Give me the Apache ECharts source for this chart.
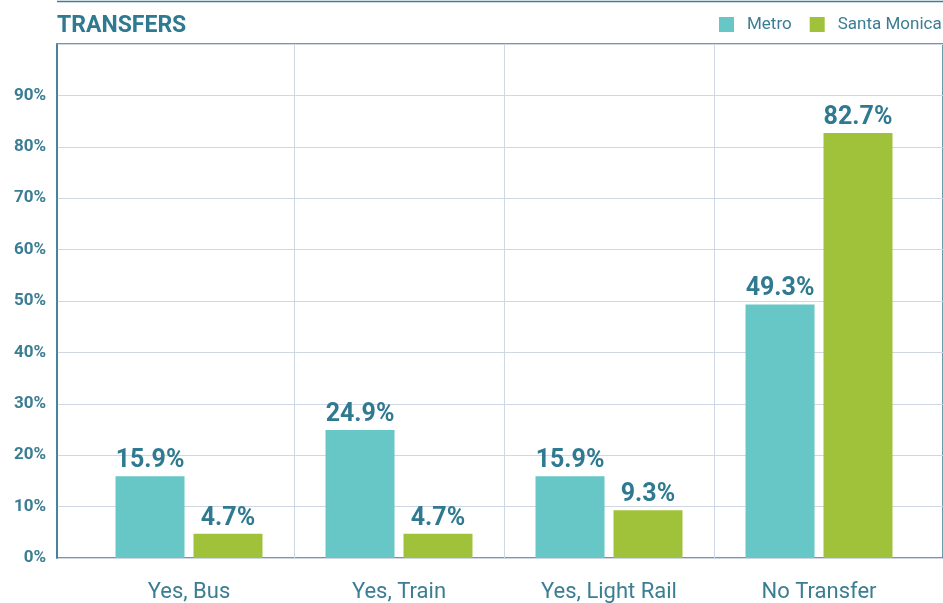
<!DOCTYPE html>
<html>
<head>
<meta charset="utf-8">
<script src="https://cdn.jsdelivr.net/npm/echarts@6/dist/echarts.min.js"></script>
<style>
  html, body { margin: 0; padding: 0; background: #ffffff; }
  #chart { width: 943px; height: 603px; }
</style>
</head>
<body>
<div id="chart"></div>
<script>
// Transfer share by rider group
const categories = ['Yes, Bus', 'Yes, Train', 'Yes, Light Rail', 'No Transfer'];
const metroValues = [15.9, 24.9, 15.9, 49.3];
const santaMonicaValues = [4.7, 4.7, 9.3, 82.7];
const seriesNames = ['Metro', 'Santa Monica'];
const yTicks = [0, 10, 20, 30, 40, 50, 60, 70, 80, 90, 100];

const ink = '#2f7a90';
const axisInk = '#3b7d92';
const gridInk = '#cfd8e2';
const font = 'Roboto, "Noto Sans", sans-serif';

const chart = echarts.init(document.getElementById('chart'), null, { renderer: 'canvas' });

const yMin = yTicks[0];
const yMax = yTicks[yTicks.length - 1];
const yStep = yTicks[1] - yTicks[0];

const barLabel = {
  show: true,
  position: 'top',
  distance: 3,
  formatter: p => p.value.toFixed(1) + '%',
  color: ink,
  fontFamily: font,
  fontWeight: 'bold',
  fontSize: 25
};

chart.setOption({
  animation: false,
  title: {
    text: 'TRANSFERS',
    left: 52,
    top: 10,
    textStyle: { color: ink, fontFamily: font, fontWeight: 'bold', fontSize: 23 }
  },
  legend: {
    data: seriesNames,
    left: 714,
    top: 11,
    width: 400,
    icon: 'rect',
    itemWidth: 15,
    itemHeight: 15,
    itemGap: 18,
    textStyle: { color: axisInk, fontFamily: font, fontSize: 17, padding: [0, 0, 0, 8] }
  },
  graphic: [{
    type: 'line',
    shape: { x1: 57, y1: 1.5, x2: 943, y2: 1.5 },
    style: { stroke: axisInk, lineWidth: 1.5 }
  }],
  grid: [
    // bar area
    { left: 84, right: 19, top: 44, bottom: 45 },
    // frame, horizontal rules and percentage scale
    { left: 57, right: -3, top: 44, bottom: 45, show: true, borderColor: axisInk, borderWidth: 1.5, backgroundColor: 'transparent' }
  ],
  xAxis: [
    {
      type: 'category',
      gridIndex: 0,
      data: categories,
      axisLine: { show: false },
      axisTick: { show: false },
      axisLabel: { color: axisInk, fontFamily: font, fontSize: 22, margin: 23 },
      splitLine: { show: true, showMinLine: false, showMaxLine: false, lineStyle: { color: gridInk, width: 1 } },
      z: 1
    },
    {
      type: 'value',
      gridIndex: 1,
      show: false
    }
  ],
  yAxis: [
    { type: 'value', gridIndex: 0, min: yMin, max: yMax, interval: yStep, show: false },
    {
      type: 'value',
      gridIndex: 1,
      min: yMin,
      max: yMax,
      interval: yStep,
      axisLine: { show: true, lineStyle: { color: axisInk, width: 1.5 } },
      axisTick: { show: false },
      axisLabel: {
        color: axisInk,
        fontFamily: font,
        fontWeight: 'bold',
        fontSize: 17,
        margin: 11,
        showMaxLabel: false,
        formatter: '{value}%'
      },
      splitLine: { show: true, lineStyle: { color: gridInk, width: 1 } }
    }
  ],
  series: [
    {
      name: seriesNames[0],
      type: 'bar',
      xAxisIndex: 0,
      yAxisIndex: 0,
      data: metroValues,
      barWidth: 69,
      barGap: '13%',
      itemStyle: { color: '#66c7c6' },
      label: barLabel,
      z: 3
    },
    {
      name: seriesNames[1],
      type: 'bar',
      xAxisIndex: 0,
      yAxisIndex: 0,
      data: santaMonicaValues,
      barWidth: 69,
      barGap: '13%',
      itemStyle: { color: '#a0c23a' },
      label: barLabel,
      z: 3
    }
  ]
});
</script>
</body>
</html>
